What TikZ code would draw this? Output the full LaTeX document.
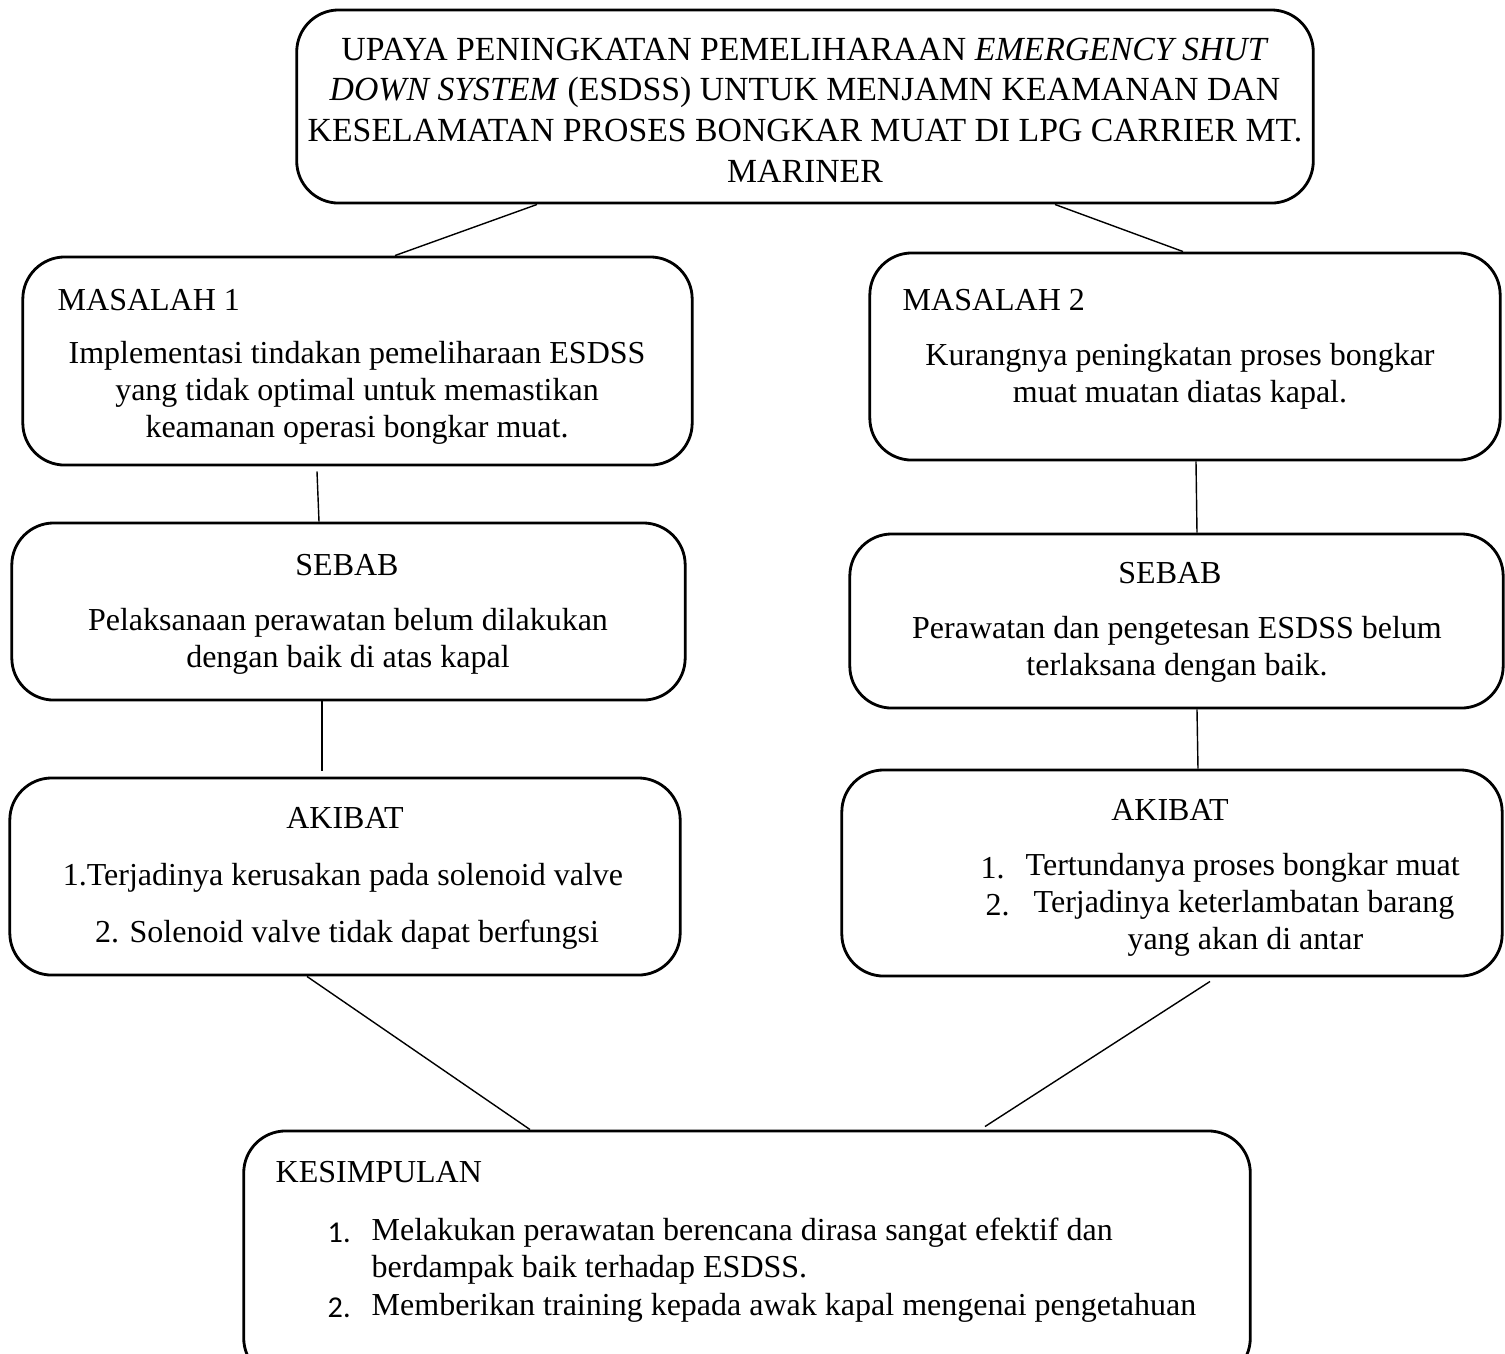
\documentclass[tikz,border=0pt]{standalone}
\usepackage{fontspec}
\setmainfont{Liberation Serif}
\newfontfamily\numfont{Carlito}
\usetikzlibrary{positioning,calc}
\tikzset{panel/.style={draw=black,line width=0.8pt,rounded corners=0.42cm,fill=white},
 lbl/.style={inner sep=0pt,font=\fontsize{9.1}{10.5}\selectfont},
 title/.style={inner sep=0pt,align=center,font=\fontsize{9.6}{11.6}\selectfont},
 body/.style={lbl,align=center},
 link/.style={draw=black,line width=0.4pt}}

\begin{document}
\begin{tikzpicture}[x=0.01cm,y=-0.01cm]
\clip (0,0) rectangle (1505,1353);
% boxes
\node[panel,minimum width=10.16cm,minimum height=1.93cm] (top) at (805,106.5){};
\node[panel,minimum width=6.69cm,minimum height=2.08cm] (m1) at (357.5,361){};
\node[panel,minimum width=6.30cm,minimum height=2.07cm] (m2) at (1185,356.5){};
\node[panel,minimum width=6.73cm,minimum height=1.77cm] (s1) at (348.5,611.5){};
\node[panel,minimum width=6.53cm,minimum height=1.74cm] (s2) at (1176.5,621){};
\node[panel,minimum width=6.70cm,minimum height=1.97cm] (a1) at (345,876.5){};
\node[panel,minimum width=6.60cm,minimum height=2.06cm] (a2) at (1172,873){};
\node[panel,minimum width=10.06cm,minimum height=2.49cm] (k) at (747,1255.5){};
% texts
\node[title] (topT) at (805,110){UPAYA PENINGKATAN PEMELIHARAAN \textit{EMERGENCY SHUT}\\
 \textit{DOWN SYSTEM} (ESDSS) UNTUK MENJAMN KEAMANAN DAN\\
 KESELAMATAN PROSES BONGKAR MUAT DI LPG CARRIER MT.\\ MARINER};
\node[lbl,anchor=west] (m1H) at (57,300){MASALAH 1};
\node[body] (m1T) at (357,393){Implementasi tindakan pemeliharaan ESDSS\\
 yang tidak optimal untuk memastikan\\ keamanan operasi bongkar muat.};
\node[lbl,anchor=west] (m2H) at (902,300){MASALAH 2};
\node[body] (m2T) at (1180,376){Kurangnya peningkatan proses bongkar\\ muat muatan diatas kapal.};
\node[lbl] (s1H) at (347,565){SEBAB};
\node[body] (s1T) at (348,641){Pelaksanaan perawatan belum dilakukan\\ dengan baik di atas kapal};
\node[lbl] (s2H) at (1170,573){SEBAB};
\node[body] (s2T) at (1177,649){Perawatan dan pengetesan ESDSS belum\\ terlaksana dengan baik.};
\node[lbl] (a1H) at (345,818){AKIBAT};
\node[lbl] (a1A) at (343,878){1.Terjadinya kerusakan pada solenoid valve};
\node[lbl] (a1B) at (347,935){2. Solenoid valve tidak dapat berfungsi};
\node[lbl] (a2H) at (1170,810){AKIBAT};
\node[lbl,anchor=west] (a2n1) at (980,868){1.};
\node[lbl,anchor=west] (a2A) at (1025,868){Tertundanya proses bongkar muat};
\node[lbl,anchor=west] (a2n2) at (985,905){2.};
\node[lbl,anchor=west] (a2B) at (1033,905){Terjadinya keterlambatan barang};
\node[lbl,anchor=west] (a2C) at (1127,942){yang akan di antar};
\node[lbl,anchor=west] (kH) at (275,1172){KESIMPULAN};
\node[lbl,anchor=west,font=\numfont\fontsize{8.6}{10}\selectfont] (kn1) at (327,1233){1.};
\node[lbl,anchor=west] (kA) at (371,1233){Melakukan perawatan berencana dirasa sangat efektif dan};
\node[lbl,anchor=west] (kB) at (371,1270){berdampak baik terhadap ESDSS.};
\node[lbl,anchor=west,font=\numfont\fontsize{8.6}{10}\selectfont] (kn2) at (327,1308){2.};
\node[lbl,anchor=west] (kC) at (371,1308){Memberikan training kepada awak kapal mengenai pengetahuan};
% connectors
\draw[link] ($(top.south)+(-268,0)$) -- ($(m1.north)+(37.5,0)$);
\draw[link] ($(top.south)+(250,0)$) -- ($(m2.north)+(-2,0)$);
\draw[link] ($(m1.south)+(-40.5,5)$) -- ($(s1.north)+(-29.5,0)$);
\draw[link] ($(m2.south)+(11,0)$) -- ($(s2.north)+(20.5,0)$);
\draw[link] ($(s1.south)+(-26.5,0)$) -- ($(a1.north)+(-23,-6)$);
\draw[link] ($(s2.south)+(20.5,0)$) -- ($(a2.north)+(26,0)$);
\draw[link] ($(a1.south)+(-38,0)$) -- ($(k.north)+(-217,0)$);
\draw[link] ($(a2.south)+(38,4)$) -- ($(k.north)+(238,-3)$);
\end{tikzpicture}
\end{document}
